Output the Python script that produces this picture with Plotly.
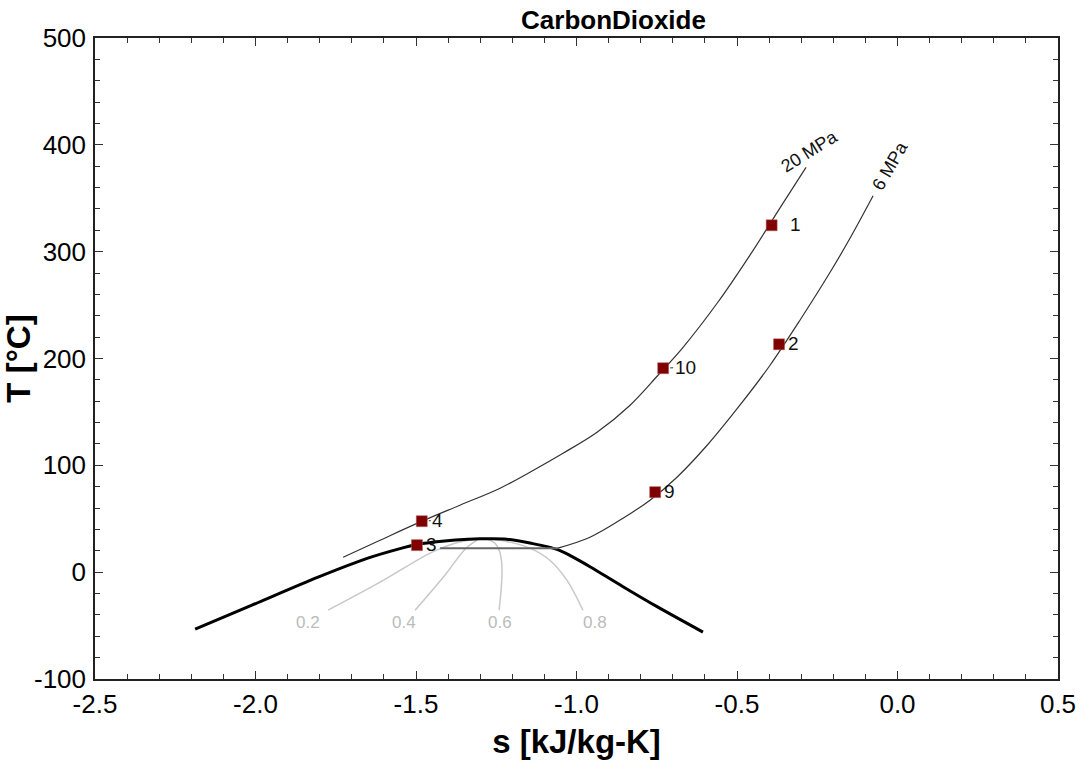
import plotly.graph_objects as go

# Saturation dome (s [kJ/kg-K], T [°C])
dome_s = [-2.188, -2.011, -1.805, -1.650, -1.544, -1.494, -1.419, -1.338, -1.300,
          -1.217, -1.136, -1.092, -1.051, -1.005, -0.958, -0.855, -0.749, -0.606]
dome_T = [-53.3, -30.9, -4.7, 13.1, 22.5, 26.2, 29.0, 30.9, 31.2,
          30.9, 26.7, 23.9, 20.1, 13.1, 5.1, -13.6, -32.3, -56.1]

# Isobar 20 MPa
p20_s = [-1.727, -1.612, -1.488, -1.363, -1.238, -1.145, -1.042, -0.936, -0.833,
         -0.746, -0.668, -0.562, -0.460, -0.357, -0.285]
p20_T = [14.0, 29.9, 46.8, 62.7, 78.6, 93.6, 111.3, 131.0, 156.3,
         184.3, 210.5, 251.7, 296.6, 345.2, 378.9]

# Isobar 6 MPa (two-phase part and superheated part)
p6_dome_s = [-1.425, -1.058]
p6_dome_T = [22.5, 22.5]
p6_s = [-1.058, -0.958, -0.855, -0.771, -0.687, -0.593, -0.491, -0.397, -0.304,
        -0.210, -0.148, -0.076]
p6_T = [22.5, 32.7, 50.5, 67.4, 88.9, 118.8, 156.3, 193.7, 235.8,
        280.7, 312.5, 352.3]

# Quality lines
q_labels = ["0.2", "0.4", "0.6", "0.8"]
q02_s = [-1.774, -1.612, -1.450, -1.379, -1.316]
q02_T = [-35.6, -9.4, 18.7, 27.1, 30.9]
q04_s = [-1.503, -1.410, -1.347, -1.310]
q04_T = [-35.6, -2.8, 21.5, 29.9]
q06_s = [-1.241, -1.232, -1.238, -1.254, -1.279, -1.307]
q06_T = [-35.6, 1.9, 17.8, 27.1, 30.9, 30.9]
q08_s = [-0.980, -1.030, -1.083, -1.145, -1.207, -1.260, -1.307]
q08_T = [-35.6, -7.5, 11.2, 22.5, 28.1, 30.9, 30.9]
q_label_s = [-1.836, -1.536, -1.238, -0.943]
q_label_T = [-47.0, -47.0, -47.0, -47.0]

# State points
pt_names = ["1", "2", "3", "4", "9", "10"]
pt_s = [-0.392, -0.369, -1.497, -1.482, -0.755, -0.730]
pt_T = [324.7, 213.3, 25.3, 47.7, 74.9, 190.9]
pt_shift = [24, 14, 15, 16, 14, 22]
pt_leader = [False, True, True, True, True, True]

# Axis ticks
x_ticks = [-2.5, -2.0, -1.5, -1.0, -0.5, 0.0, 0.5]
x_ticktext = ["-2.5", "-2.0", "-1.5", "-1.0", "-0.5", "0.0", "0.5"]
y_ticks = [-100, 0, 100, 200, 300, 400, 500]
y_ticktext = ["-100", "0", "100", "200", "300", "400", "500"]

FONT = "Liberation Sans, Arial, sans-serif"

fig = go.Figure()

qcol = "#c8c8c8"
for qs, qt in [(q02_s, q02_T), (q04_s, q04_T), (q06_s, q06_T), (q08_s, q08_T)]:
    fig.add_trace(go.Scatter(x=qs, y=qt, mode="lines", line=dict(color=qcol, width=1.5, shape="spline"),
                             hoverinfo="skip", showlegend=False))

fig.add_trace(go.Scatter(x=dome_s, y=dome_T, mode="lines",
                         line=dict(color="black", width=3, shape="spline", smoothing=0.9),
                         showlegend=False))
fig.add_trace(go.Scatter(x=p6_dome_s, y=p6_dome_T, mode="lines", line=dict(color="#666666", width=2),
                         showlegend=False))
fig.add_trace(go.Scatter(x=p20_s, y=p20_T, mode="lines", line=dict(color="#333333", width=1.2, shape="spline"),
                         showlegend=False))
fig.add_trace(go.Scatter(x=p6_s, y=p6_T, mode="lines", line=dict(color="#333333", width=1.2, shape="spline"),
                         showlegend=False))

fig.add_trace(go.Scatter(x=pt_s, y=pt_T, mode="markers",
                         marker=dict(symbol="square", size=11, color="#800000", line=dict(color="#b06060", width=0.5)),
                         showlegend=False))

for name, s, t, sh, ld in zip(pt_names, pt_s, pt_T, pt_shift, pt_leader):
    if ld:
        fig.add_annotation(x=s, y=t, text=name, showarrow=True, arrowhead=0, arrowwidth=1, arrowcolor="#333333",
                           ax=sh, ay=-1, standoff=7, xanchor="center", yanchor="middle",
                           font=dict(size=19, color="#111111", family=FONT))
    else:
        fig.add_annotation(x=s, y=t, text=name, showarrow=False, xanchor="center", yanchor="middle",
                           xshift=sh, yshift=1, font=dict(size=19, color="#111111", family=FONT))

for lab, s, t in zip(q_labels, q_label_s, q_label_T):
    fig.add_annotation(x=s, y=t, text=lab, showarrow=False,
                       font=dict(size=17, color="#bbbbbb", family=FONT))

fig.add_annotation(x=-0.273, y=394, text="20 MPa", showarrow=False, textangle=-32,
                   font=dict(size=18, color="#111111", family=FONT))
fig.add_annotation(x=-0.023, y=380, text="6 MPa", showarrow=False, textangle=-60,
                   font=dict(size=18, color="#111111", family=FONT))

axis_common = dict(showgrid=False, zeroline=False, showline=True, linecolor="#222222", linewidth=1.5,
                   mirror="ticks", ticks="inside", ticklen=8, tickwidth=1, tickcolor="#333333",
                   automargin=False,
                   tickfont=dict(size=26, family=FONT, color="black"))

fig.update_xaxes(range=[-2.5, 0.5], tickvals=x_ticks, ticktext=x_ticktext, **axis_common,
                 ticklabelstandoff=1,
                 minor=dict(dtick=0.1, ticks="inside", ticklen=5, tickcolor="#333333"),
                 title=dict(text="<b>s [kJ/kg-K]</b>", font=dict(size=33, family=FONT, color="black"),
                            standoff=12))
fig.update_yaxes(range=[-100, 500], tickvals=y_ticks, ticktext=y_ticktext, **axis_common,
                 ticklabelstandoff=2,
                 minor=dict(dtick=20, ticks="inside", ticklen=5, tickcolor="#333333"),
                 title=dict(text="<b>T [°C]</b>", font=dict(size=33, family=FONT, color="black"),
                            standoff=2))

fig.update_layout(
    width=1082, height=772,
    margin=dict(l=95, r=24, t=38, b=93),
    plot_bgcolor="white", paper_bgcolor="white",
    title=dict(text="<b>CarbonDioxide</b>", x=0.567, xanchor="center", y=0.974, yanchor="middle",
               font=dict(size=26, family=FONT, color="black")),
)

fig.write_html("out.html")
